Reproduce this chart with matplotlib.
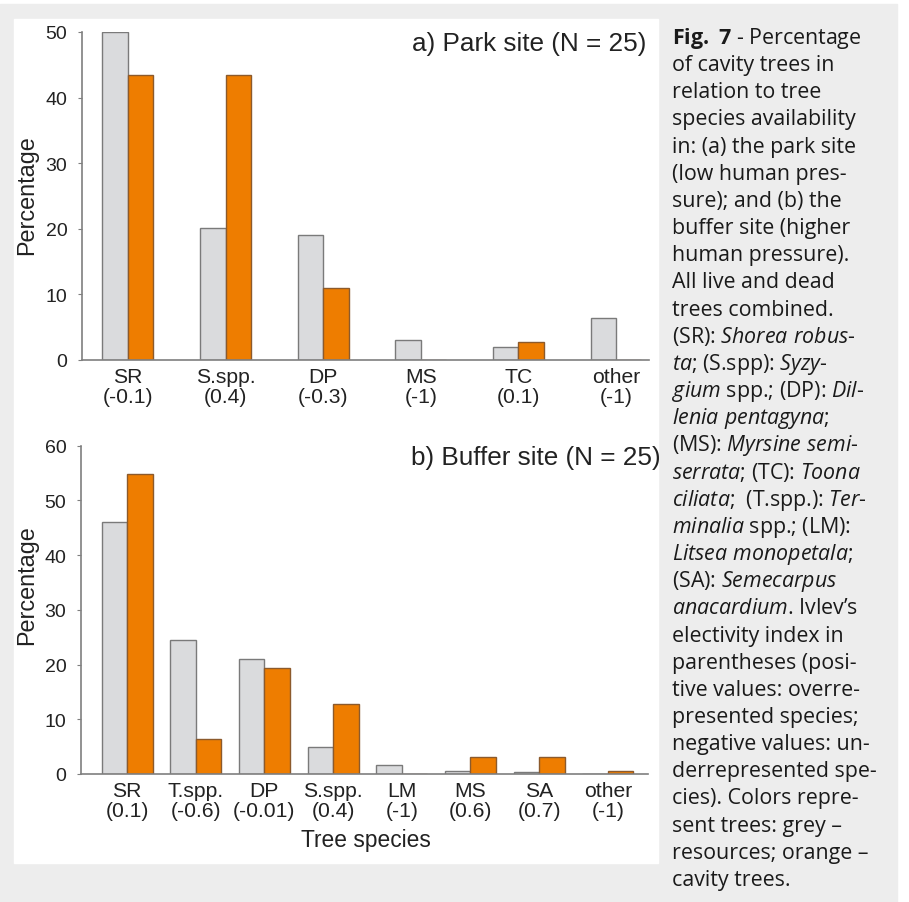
import matplotlib
matplotlib.use('Agg')
import matplotlib.pyplot as plt
from matplotlib.patches import Rectangle
import numpy as np

plt.rcParams['font.family'] = 'Liberation Sans'
plt.rcParams['mathtext.fontset'] = 'custom'
plt.rcParams['mathtext.rm'] = 'Open Sans'
plt.rcParams['mathtext.it'] = 'Open Sans:italic'
plt.rcParams['mathtext.bf'] = 'Open Sans:bold'

# --- data ---
park_species = ['SR', 'S.spp.', 'DP', 'MS', 'TC', 'other']
park_ivlev = ['-0.1', '0.4', '-0.3', '-1', '0.1', '-1']
park_resources = [50, 20.1, 19.0, 3.0, 2.0, 6.4]
park_cavity = [43.4, 43.4, 10.9, 0, 2.8, 0]

buffer_species = ['SR', 'T.spp.', 'DP', 'S.spp.', 'LM', 'MS', 'SA', 'other']
buffer_ivlev = ['0.1', '-0.6', '-0.01', '0.4', '-1', '0.6', '0.7', '-1']
buffer_resources = [46.0, 24.5, 21.0, 4.9, 1.7, 0.6, 0.4, 0]
buffer_cavity = [54.8, 6.4, 19.3, 12.8, 0, 3.1, 3.1, 0.6]

caption_lines = [
    r'$\mathbf{Fig.\ 7}$ - Percentage',
    'of cavity trees in',
    'relation to tree',
    'species availability',
    'in: (a) the park site',
    '(low human pres-',
    'sure); and (b) the',
    'buffer site (higher',
    'human pressure).',
    'All live and dead',
    'trees combined.',
    r'(SR): $\mathit{Shorea\ robus}$-',
    r'$\mathit{ta}$; (S.spp): $\mathit{Syzy}$-',
    r'$\mathit{gium}$ spp.; (DP): $\mathit{Dil}$-',
    r'$\mathit{lenia\ pentagyna}$;',
    r'(MS): $\mathit{Myrsine\ semi}$-',
    r'$\mathit{serrata}$; (TC): $\mathit{Toona}$',
    r'$\mathit{ciliata}$;  (T.spp.): $\mathit{Ter}$-',
    r'$\mathit{minalia}$ spp.; (LM):',
    r'$\mathit{Litsea\ monopetala}$;',
    r'(SA): $\mathit{Semecarpus}$',
    r'$\mathit{anacardium}$. Ivlev’s',
    'electivity index in',
    'parentheses (posi-',
    'tive values: overre-',
    'presented species;',
    'negative values: un-',
    'derrepresented spe-',
    'cies). Colors repre-',
    'sent trees: grey –',
    'resources; orange –',
    'cavity trees.',
]

grey = '#dadbdd'
grey_edge = '#7a7a7a'
orange = '#ee7d00'
orange_edge = '#8c5a2c'
axis_col = '#7f7f7f'
text_col = '#222222'
W, H = 909, 903

fig = plt.figure(figsize=(W / 100, H / 100), dpi=100)
fig.patch.set_facecolor('white')

def px(x0, y0, x1, y1):
    # pixel box (top-left origin) -> figure fraction rect
    return [x0 / W, 1 - y1 / H, (x1 - x0) / W, (y1 - y0) / H]

# page background boxes (behind the axes)
fig.patches.append(Rectangle((0, 1 - 903 / H), 897 / W, 898 / H,
                             transform=fig.transFigure, color='#ededed', zorder=-10))
fig.patches.append(Rectangle((14 / W, 1 - 864 / H), 644 / W, 844 / H,
                             transform=fig.transFigure, color='white', zorder=-9))


def bar_panel(rect, species, ivlev, res, cav, ymax, xlim, width, title):
    ax = fig.add_axes(rect)
    ax.patch.set_alpha(0)
    x = np.arange(len(species))
    ax.bar(x - width / 2, res, width, color=grey, edgecolor=grey_edge, linewidth=1)
    ax.bar(x + width / 2, cav, width, color=orange, edgecolor=orange_edge, linewidth=1)
    ax.set_xlim(*xlim)
    ax.set_ylim(0, ymax)
    ax.set_yticks(np.arange(0, ymax + 1, 10))
    ax.set_xticks(x)
    ax.set_xticklabels([f'{s}\n({v})' for s, v in zip(species, ivlev)], linespacing=1.08)
    for s in ['top', 'right']:
        ax.spines[s].set_visible(False)
    for s in ['left', 'bottom']:
        ax.spines[s].set_color(axis_col)
        ax.spines[s].set_linewidth(1.2)
    ax.tick_params(axis='y', length=3, color=axis_col, labelsize=14, pad=7.5, labelcolor=text_col)
    ax.tick_params(axis='x', length=0, labelsize=15.2, pad=5, labelcolor=text_col)
    ax.text(0.582, 0.966, title, transform=ax.transAxes, ha='left', va='center',
            fontsize=18.8, color=text_col)
    return ax


# --- a) park site ---
bar_panel(px(82, 33, 649, 361), park_species, park_ivlev, park_resources, park_cavity,
          50, (-0.471, 5.338), 0.261, 'a) Park site (N = 25)')
fig.text(27 / W, 1 - 195 / H, 'Percentage', rotation=90, ha='center', va='center',
         fontsize=16.8, color=text_col)

# --- b) buffer site ---
bar_panel(px(81, 446.7, 648, 775), buffer_species, buffer_ivlev, buffer_resources, buffer_cavity,
          60, (-0.67, 7.584), 0.371, 'b) Buffer site (N = 25)')
fig.text(27 / W, 1 - 585 / H, 'Percentage', rotation=90, ha='center', va='center',
         fontsize=16.8, color=text_col)
fig.text(366 / W, 1 - 841 / H, 'Tree species', ha='center', va='center',
         fontsize=16.4, color=text_col)

# --- caption column ---
for i, line in enumerate(caption_lines):
    fig.text(672 / W, 1 - (44 + 27.16 * i) / H, line, ha='left', va='baseline',
             fontsize=15.4, family='Open Sans', color='#1a1a1a')

fig.savefig('out.png', dpi=100, facecolor=fig.get_facecolor())
